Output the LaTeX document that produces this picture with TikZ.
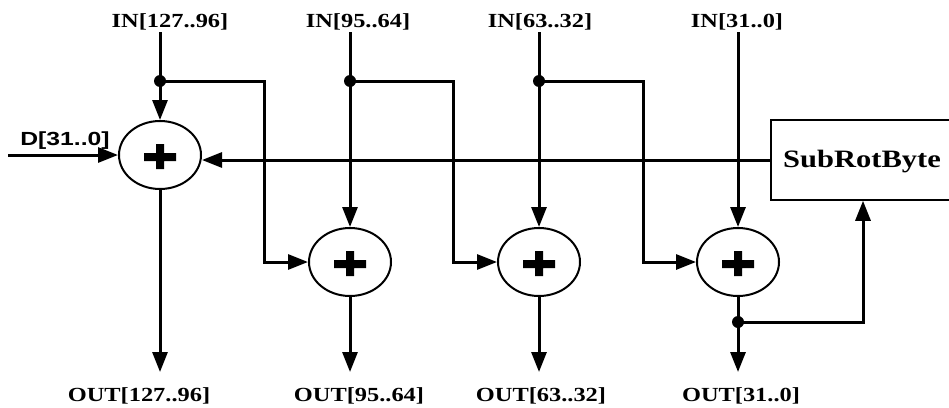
\documentclass[tikz,border=0pt]{standalone}
\usepackage{fontspec}
\setmainfont{Liberation Serif}
\newfontfamily\arialfont{Liberation Sans}
\usetikzlibrary{arrows.meta,shapes.geometric}
\newcommand{\widetext}[2]{\scalebox{#1}[1]{#2}}
\begin{document}
\begin{tikzpicture}[x=1pt,y=-1pt,
  wire/.style={line width=3pt},
  arr/.style={wire,-{Triangle[length=20pt,width=15pt]}},
  adder/.style={ellipse,draw,line width=2pt,minimum width=82pt,minimum height=68pt,inner sep=0pt,
    path picture={\fill[shift={(path picture bounding box.center)}] (-16,-2) rectangle (16,6) (-4,-11) rectangle (4,14);}},
  lbl/.style={anchor=base,inner sep=0pt,font=\fontsize{20}{24}\selectfont\bfseries},
  jdot/.style={circle,fill,inner sep=0pt,minimum size=12pt},
  box/.style={draw,line width=1.5pt,minimum width=184pt,minimum height=80pt,inner sep=0pt}
]
\useasboundingbox (0,0) rectangle (949,407);
\clip (0,0) rectangle (949,407);

% labels
\node[lbl] (in1) at (170,27) {\widetext{1.22}{IN[127..96]}};
\node[lbl] (in2) at (358,27) {\widetext{1.22}{IN[95..64]}};
\node[lbl] (in3) at (540,27) {\widetext{1.22}{IN[63..32]}};
\node[lbl] (in4) at (737,27) {\widetext{1.22}{IN[31..0]}};
\node[lbl] (o1) at (139,401) {\widetext{1.22}{OUT[127..96]}};
\node[lbl] (o2) at (359,401) {\widetext{1.22}{OUT[95..64]}};
\node[lbl] (o3) at (541,401) {\widetext{1.22}{OUT[63..32]}};
\node[lbl] (o4) at (741,401) {\widetext{1.22}{OUT[31..0]}};
\node[lbl,font=\arialfont\fontsize{19}{22}\selectfont\bfseries] (dl) at (65,145) {\widetext{1.3}{D[31..0]}};

% adders
\node[adder] (a1) at (160,155) {};
\node[adder] (a2) at (350,262) {};
\node[adder] (a3) at (539,262) {};
\node[adder] (a4) at (738,262) {};

% SubRotByte box
\node[box] (srb) at (863,160) {};
\node[anchor=base,inner sep=0pt,font=\fontsize{25}{30}\selectfont\bfseries] (srbt) at (862,167) {\widetext{1.22}{SubRotByte}};

% coordinates
\coordinate (top1) at (160,32);
\coordinate (top2) at (350,32);
\coordinate (top3) at (539,32);
\coordinate (top4) at (738,32);
\node[jdot] (j1) at (160,81) {};
\node[jdot] (j2) at (350,81) {};
\node[jdot] (j3) at (539,81) {};
\node[jdot] (j4) at (738,322) {};
\coordinate (b1) at (264,81);
\coordinate (b2) at (453,81);
\coordinate (b3) at (643,81);
\coordinate (d0) at (8,155);
\coordinate (e1) at (160,372);
\coordinate (e2) at (350,372);
\coordinate (e3) at (539,372);
\coordinate (e4) at (738,372);

% inputs
\draw[wire] (top1) -- (j1.center);
\draw[arr] (j1.center) -- (a1.north);
\draw[wire] (top2) -- (j2.center);
\draw[arr] (j2.center) -- (a2.north);
\draw[wire] (top3) -- (j3.center);
\draw[arr] (j3.center) -- (a3.north);
\draw[arr] (top4) -- (a4.north);

% branches
\draw[arr] (j1.center) -- (b1) |- (a2.west);
\draw[arr] (j2.center) -- (b2) |- (a3.west);
\draw[arr] (j3.center) -- (b3) |- (a4.west);

% D input and feedback
\draw[arr] (d0) -- (a1.west);
\draw[arr] (srb.west) -- (srb.west -| a1.east);

% outputs
\draw[arr] (a1.south) -- (e1);
\draw[arr] (a2.south) -- (e2);
\draw[arr] (a3.south) -- (e3);
\draw[arr] (a4.south) -- (e4);
\draw[arr] (j4.center) -| (srb.south);
\end{tikzpicture}
\end{document}
